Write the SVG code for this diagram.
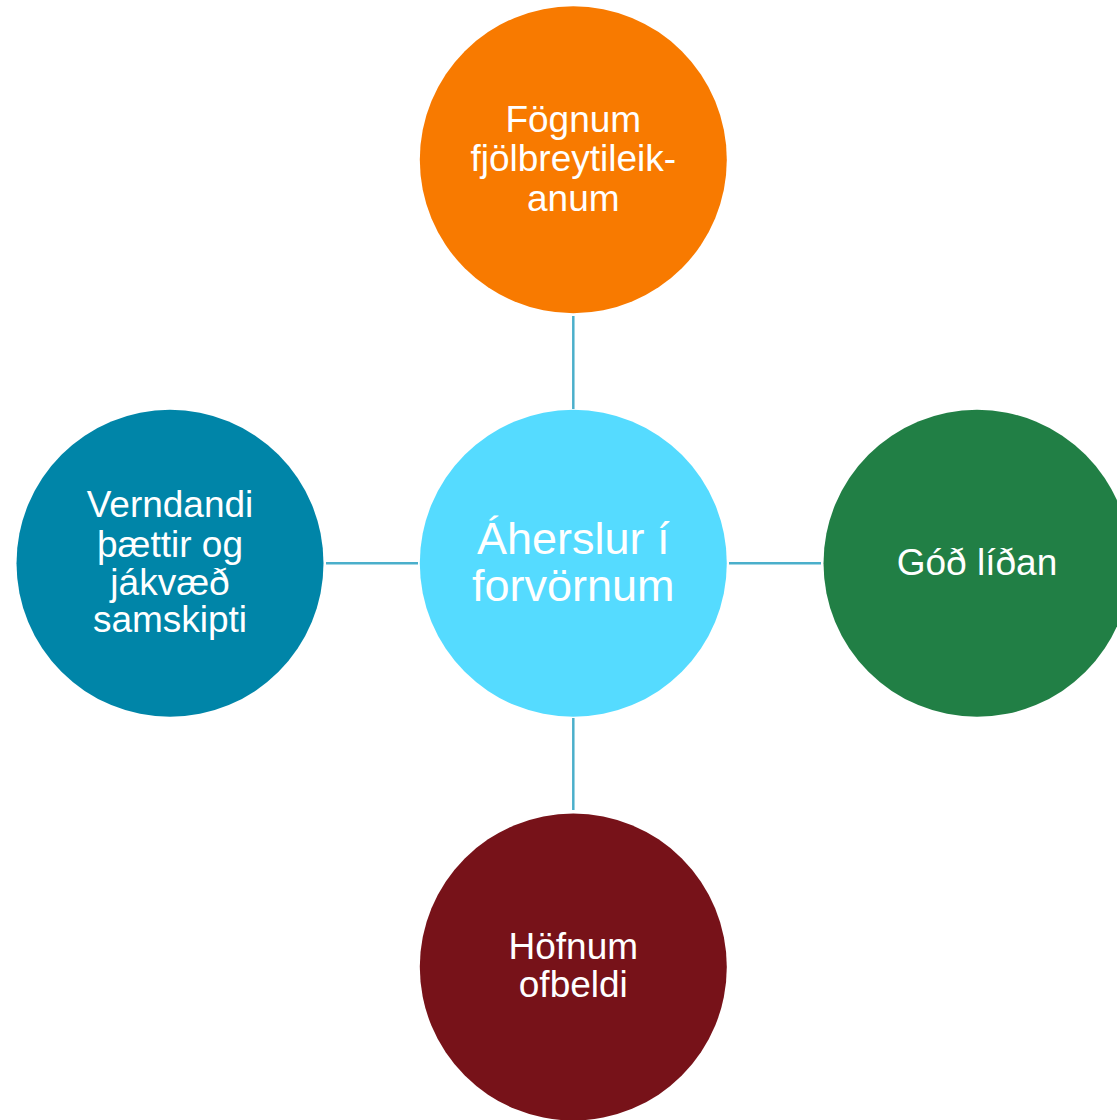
<svg xmlns="http://www.w3.org/2000/svg" width="1117" height="1120" viewBox="0 0 1117 1120">
<style>
.lbl{font-family:"Liberation Sans",Arial,sans-serif;fill:#ffffff;text-anchor:middle;font-size:37px}
.ctr{font-size:45px}
.conn{stroke:#4BAFCB;stroke-width:2.5;fill:none}
</style>
<rect width="1117" height="1120" fill="#ffffff"/>
<g id="connectors">
<line class="conn" x1="573.3" y1="316" x2="573.3" y2="409"/>
<line class="conn" x1="573.3" y1="718" x2="573.3" y2="810"/>
<line class="conn" x1="326" y1="563.3" x2="418" y2="563.3"/>
<line class="conn" x1="729" y1="563.3" x2="821" y2="563.3"/>
</g>
<g id="center">
<circle cx="573.3" cy="563.3" r="153.5" fill="#55DBFF"/>
<text class="lbl ctr" x="573.3" y="554">Áherslur í</text>
<text class="lbl ctr" x="573.3" y="601">forvörnum</text>
</g>
<g id="top">
<circle cx="573.3" cy="159.7" r="153.5" fill="#F87A00"/>
<text class="lbl" x="573.3" y="131.7">Fögnum</text>
<text class="lbl" x="573.3" y="171.3">fjölbreytileik-</text>
<text class="lbl" x="573.3" y="210.7">anum</text>
</g>
<g id="right">
<circle cx="977" cy="563.3" r="153.5" fill="#217F45"/>
<text class="lbl" x="977" y="575">Góð líðan</text>
</g>
<g id="left">
<circle cx="170" cy="563.3" r="153.5" fill="#0085A8"/>
<text class="lbl" x="170" y="517.3">Verndandi</text>
<text class="lbl" x="170" y="556.5">þættir og</text>
<text class="lbl" x="170" y="595">jákvæð</text>
<text class="lbl" x="170" y="632">samskipti</text>
</g>
<g id="bottom">
<circle cx="573.3" cy="967" r="153.5" fill="#771219"/>
<text class="lbl" x="573.3" y="959.3">Höfnum</text>
<text class="lbl" x="573.3" y="997.3">ofbeldi</text>
</g>
</svg>
